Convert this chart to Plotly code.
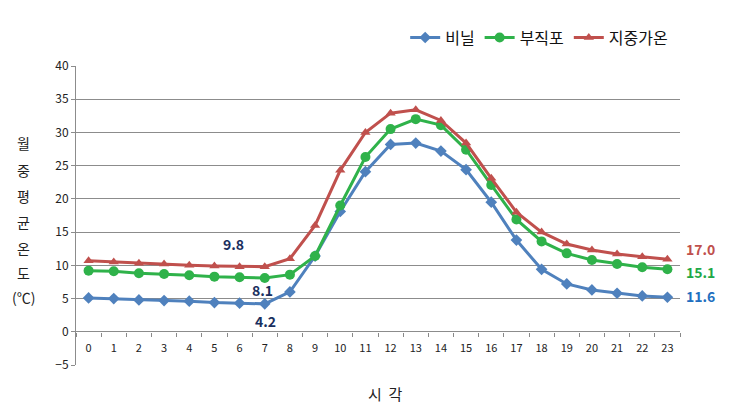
import plotly.graph_objects as go

hours = [str(h) for h in range(24)]
vinyl = [5.1, 5.0, 4.8, 4.7, 4.6, 4.4, 4.3, 4.2, 6.0, 11.4, 18.1, 24.1, 28.2, 28.4, 27.2, 24.4, 19.5, 13.8, 9.4, 7.2, 6.3, 5.8, 5.4, 5.2]
nonwoven = [9.2, 9.1, 8.8, 8.7, 8.5, 8.3, 8.2, 8.1, 8.6, 11.4, 19.0, 26.3, 30.5, 32.0, 31.1, 27.4, 22.1, 16.9, 13.6, 11.8, 10.8, 10.2, 9.7, 9.4]
heated = [10.7, 10.5, 10.3, 10.2, 10.0, 9.9, 9.8, 9.8, 11.0, 16.0, 24.3, 30.0, 32.9, 33.4, 31.8, 28.4, 23.1, 18.0, 15.0, 13.2, 12.3, 11.7, 11.3, 10.9]
names = ["비닐", "부직포", "지중가온"]
colors = ["#4f81bd", "#2fb24a", "#c0504d"]
symbols = ["diamond", "circle", "triangle-up"]
min_labels = ["4.2", "8.1", "9.8"]
end_labels = ["11.6", "15.1", "17.0"]
end_colors = ["#1f6fc0", "#1fa848", "#c0504d"]
ytitle_chars = ["월", "중", "평", "균", "온", "도", "(℃)"]
xtitle = "시  각"

FONT = "Noto Sans CJK KR"
fig = go.Figure()
for s, nm, c, sym in zip([vinyl, nonwoven, heated], names, colors, symbols):
    fig.add_trace(go.Scatter(x=hours, y=s, name=nm, mode="lines+markers",
                             line=dict(color=c, width=3),
                             marker=dict(symbol=sym, size=9 if sym != "circle" else 10, color=c)))

# minimum labels near hour 7
mfont = dict(size=14, color="#1a2f5e", family=FONT)
fig.add_annotation(x="7", y=vinyl[7], text="<b>" + min_labels[0] + "</b>", showarrow=False,
                   xshift=1, yshift=-17, font=mfont)
fig.add_annotation(x="7", y=nonwoven[7], text="<b>" + min_labels[1] + "</b>", showarrow=False,
                   xshift=-2, yshift=-12, font=mfont)
fig.add_annotation(x="7", y=heated[7], text="<b>" + min_labels[2] + "</b>", showarrow=False,
                   xshift=-31, yshift=23, font=mfont)

for lab, c, yv, ys in zip(end_labels, end_colors, [vinyl[-1], nonwoven[-1], heated[-1]], [1, -3, 10]):
    fig.add_annotation(x=1.0, xref="paper", y=yv, yref="y", text="<b>" + lab + "</b>",
                       showarrow=False, xanchor="left", xshift=4, yshift=ys,
                       font=dict(size=14, color=c, family=FONT))

ypix = [143, 170, 196, 222, 248, 273, 297]
for ch, py in zip(ytitle_chars, ypix):
    fig.add_annotation(x=(23 - 76) / 604, xref="paper", y=(365 - py) / 299, yref="paper",
                       text=ch, showarrow=False, xanchor="center", yanchor="middle",
                       font=dict(size=14, color="#222", family=FONT))

fig.add_annotation(x=(385 - 76) / 604, xref="paper", y=(365 - 393) / 299, yref="paper",
                   text=xtitle, showarrow=False, xanchor="center", yanchor="middle",
                   font=dict(size=15, color="#222", family=FONT))

fig.update_layout(
    width=734, height=418,
    margin=dict(l=76, r=54, t=66, b=53),
    paper_bgcolor="white", plot_bgcolor="white",
    font=dict(family=FONT, color="#222"),
    showlegend=True,
    legend=dict(orientation="h", x=0.545, y=1.095, xanchor="left", yanchor="middle",
                font=dict(size=16, color="#111", family=FONT), itemwidth=30,
                bgcolor="rgba(0,0,0,0)"),
    xaxis=dict(type="category", range=[-0.5, 23.5], anchor="free", position=5 / 45,
               tickson="boundaries", ticks="outside", ticklen=4, tickcolor="#888",
               ticklabelstandoff=8,
               showgrid=False, showline=False, zeroline=False,
               tickfont=dict(size=11, color="#222")),
    yaxis=dict(range=[-5, 40], dtick=5, tick0=0, showgrid=True, gridcolor="#8c8c8c", gridwidth=1,
               zeroline=False, showline=True, linecolor="#8c8c8c", ticks="outside", ticklen=4,
               tickcolor="#8c8c8c", tickfont=dict(size=12, color="#222")),
)
fig.write_html("out.html")
